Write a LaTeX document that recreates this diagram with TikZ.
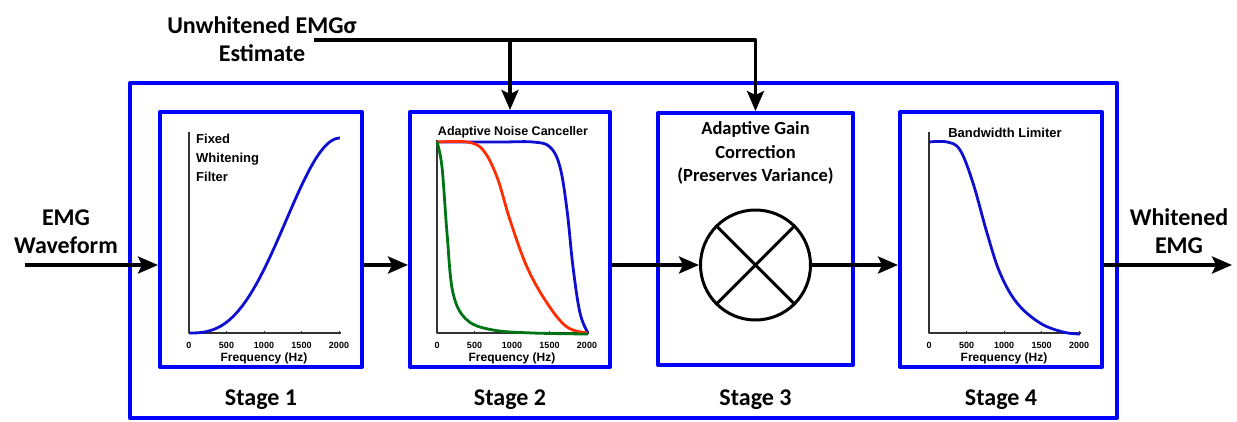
\documentclass[tikz,border=0pt]{standalone}
\usepackage{fontspec}
\setmainfont{Carlito}
\newfontfamily\arialf{Liberation Sans}
\usetikzlibrary{arrows.meta,positioning}
\definecolor{boxblue}{RGB}{0,0,255}
\definecolor{curveblue}{RGB}{15,15,210}
\definecolor{curvered}{RGB}{255,45,0}
\definecolor{curvegreen}{RGB}{0,115,20}
\begin{document}
\begin{tikzpicture}[x=1pt, y=-1pt, line join=round,
	>={Stealth[length=20pt,width=17pt,inset=4pt]},
	flow/.style={line width=3.5pt},
	stagebox/.style={draw=boxblue, line width=4pt, inner sep=0pt, minimum width=202pt, minimum height=255pt},
	lbl/.style={font=\fontsize{24}{28}\selectfont\bfseries, align=center, inner sep=0pt},
	inlbl/.style={font=\arialf\bfseries\fontsize{13}{19}\selectfont, inner sep=0pt},
	tick/.style={font=\arialf\bfseries\fontsize{9}{10}\selectfont, inner sep=0pt},
	curve/.style={line width=2.8pt}]
	\useasboundingbox (0,0) rectangle (1237,421);
	% blocks
	\node[stagebox, minimum width=987pt, minimum height=335pt] (main) at (623.5,250.5) {};
	\node[stagebox] (s1) at (261,239.5) {};
	\node[stagebox, minimum width=200pt] (s2) at (510,239.5) {};
	\node[stagebox, minimum width=195pt, minimum height=252pt] (s3) at (755.5,239) {};
	\node[stagebox] (s4) at (1001,239.5) {};
	\node[circle, draw, line width=3pt, minimum size=110pt, inner sep=0pt] (mul) at (755.5,265) {};
	\draw[line width=3pt] (mul.45)--(mul.225) (mul.135)--(mul.315);
	% labels
	\node[lbl, below=21pt of s1] (t1) {Stage 1};
	\node[lbl, below=21pt of s2] (t2) {Stage 2};
	\node[lbl, below=23pt of s3] (t3) {Stage 3};
	\node[lbl, below=21pt of s4] (t4) {Stage 4};
	\node[lbl] (est) at (262,39) {Unwhitened EMGσ\\Estimate};
	\node[lbl] (emg) at (66,232) {EMG\\Waveform};
	\node[lbl] (wemg) at (1179,231) {Whitened\\EMG};
	\node[lbl, font=\fontsize{18.5}{23.5}\selectfont\bfseries] (agc) at (755.5,153) {Adaptive Gain\\Correction\\(Preserves Variance)};
	% signal path
	\coordinate (in) at (25,265);
	\coordinate (out) at (1232,265);
	\coordinate (fb) at (314,40);
	\draw[flow,->] (in)--(in -| s1.west);
	\draw[flow,->] (s1.east |- in)--(s2.west |- in);
	\draw[flow,->] (s2.east |- in)--(mul.west);
	\draw[flow,->] (mul.east)--(s4.west |- mul);
	\draw[flow,->] (s4.east |- mul)--(out);
	\draw[flow,->] (fb) -| (s3.north);
	\draw[flow,->] (s2.north |- fb)--(s2.north);
	% frequency axes
	\foreach \ax/\ay in {189/132, 437/140, 929/132} {
		\draw[line width=1.2pt, black!80] (\ax,\ay)--(\ax,333)--(\ax+152,333);
		\foreach \k/\f in {0/0, 1/500, 2/1000, 3/1500, 4/2000} {
			\draw[line width=1pt, black!80] (\ax+37.5*\k,333)--(\ax+37.5*\k,330.5);
			\node[tick] at (\ax+37.5*\k,345) {\f};
		}
		\node[tick, font=\arialf\bfseries\fontsize{12}{14}\selectfont] at (\ax+75,358) {Frequency (Hz)};
	}
	\node[inlbl, anchor=west, align=left] (fwf) at (196,158) {Fixed\\Whitening\\Filter};
	\node[inlbl, font=\arialf\bfseries\fontsize{12.5}{14}\selectfont] (anc) at (513,132) {Adaptive Noise Canceller};
	\node[inlbl] (bwl) at (1005,133) {Bandwidth Limiter};
	% responses
	\draw[curve, curveblue] plot[domain=0.001:1, samples=80] ({189+151*\x},{333-195*(1-cos(180*\x^1.357))/2});
	\draw[curve, curveblue] plot[smooth, tension=0.6] coordinates {(437,142) (500,142) (533,142) (550,147) (560,167) (567,210) (573,267) (580,313) (588,333)};
	\draw[curve, curvered] plot[smooth, tension=0.6] coordinates {(437,142) (467,142) (483,150) (497,177) (510,220) (527,267) (547,303) (567,327) (588,333)};
	\draw[curve, curvegreen] plot[smooth, tension=0.6] coordinates {(437,142) (442,167) (447,233) (453,293) (467,320) (493,330) (533,333) (588,334)};
	\draw[curve, curveblue] plot[smooth, tension=0.6] coordinates {(929,142) (947,142) (960,150) (973,183) (987,233) (1000,273) (1017,303) (1040,323) (1063,332) (1080,334)};
\end{tikzpicture}
\end{document}
